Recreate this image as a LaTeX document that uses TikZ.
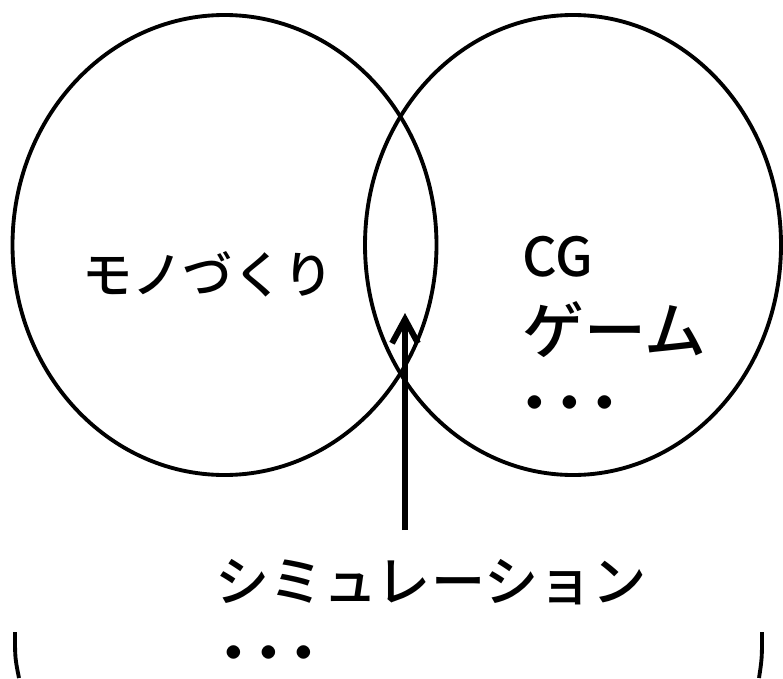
\documentclass[tikz,border=0pt]{standalone}
\usepackage{fontspec}
\newfontfamily\jp[UprightFont={* Medium}, BoldFont={* Bold}]{Noto Sans CJK JP}
\usepackage{tikz}
\usetikzlibrary{arrows.meta}

\tikzset{
    lbl/.style={font=\jp\fontsize{14.3pt}{17pt}\selectfont, inner sep=0pt},
    cglbl/.style={font=\jp\fontsize{15.3pt}{18pt}\selectfont, inner sep=0pt},
    gamelbl/.style={font=\jp\fontsize{17.6pt}{20pt}\selectfont, inner sep=0pt},
    simlbl/.style={font=\jp\fontsize{15.4pt}{18pt}\selectfont, inner sep=0pt},
    dotlbl/.style={font=\jp\bfseries\fontsize{15pt}{17pt}\selectfont, inner sep=0pt},
}
\newcommand{\tridots}{・\hspace{-0.34em}・\hspace{-0.34em}・}

\begin{document}
\begin{tikzpicture}
    % параметры
    \def\W{7.83}   % ширина
    \def\H{6.78}   % высота
    \def\LW{1.1pt} % толщина линий

    \useasboundingbox (0,0) rectangle (\W,\H);

    % два круга
    \draw[line width=\LW] (2.245,4.33) ellipse [x radius=2.12, y radius=2.30];
    \draw[line width=\LW] (5.73,4.33) ellipse [x radius=2.08, y radius=2.30];

    % подписи
    \node[lbl] (mono) at (2.08,4.04) {モノづくり};
    \node[cglbl, anchor=west] (cg) at (5.22,4.21) {CG};
    \node[gamelbl] (game) at (6.14,3.48) {ゲーム};
    \node[dotlbl] (gdots) at (5.70,2.69) {\tridots};
    \node[simlbl] (sim) at (4.31,0.96) {シミュレーション};
    \node[dotlbl] (bdots) at (2.69,0.19) {\tridots};

    % стрелка
    \coordinate (tail) at (4.05,1.48);
    \coordinate (tip) at (4.05,3.65);
    \draw[line width=1.7pt, -{Straight Barb[length=2.4mm, width=2.6mm]}] (tail) -- (tip);

    % скобки снизу
    \draw[line width=\LW] (0.15,0.46) .. controls (0.15,0.2) .. (0.19,0);
    \draw[line width=\LW] (7.62,0.46) .. controls (7.62,0.2) .. (7.59,0);
\end{tikzpicture}
\end{document}
